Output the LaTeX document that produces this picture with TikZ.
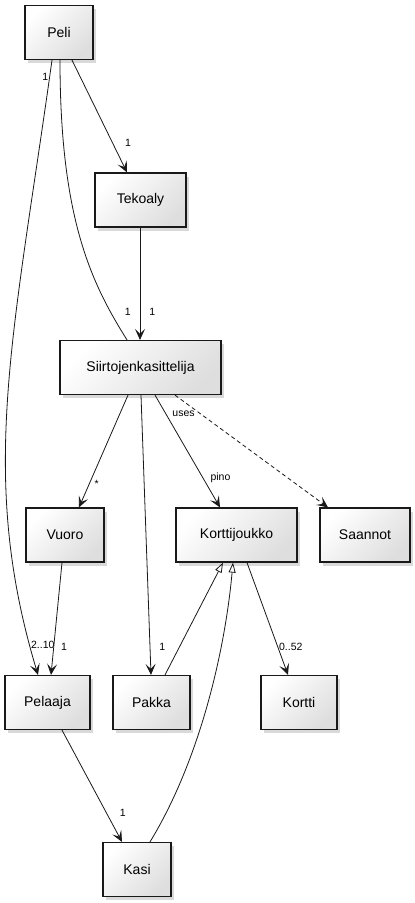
\documentclass[tikz,border=0pt]{standalone}
\usepackage{fontspec}
\setmainfont{Liberation Sans}
\usetikzlibrary{arrows.meta, shadows}
\tikzstyle{entity} = [
    draw=black!90,
    line width=1.2pt,
    rectangle,
    minimum height=54pt,
    inner sep=0pt,
    top color=white,
    bottom color=black!13,
    shading angle=45,
    drop shadow={shadow xshift=3pt, shadow yshift=-3.5pt, opacity=0.3},
    font=\fontsize{14}{16}\selectfont
]
\tikzstyle{assoc} = [-{Stealth[length=11pt, width=10pt, inset=5pt]}, line width=0.8pt, draw=black!90]
\tikzstyle{link} = [line width=0.8pt, draw=black!90]
\tikzstyle{depends} = [assoc, dash pattern=on 4pt off 3pt]
\tikzstyle{extends} = [-{Triangle[open, fill=white, length=10pt, width=7pt]}, line width=0.8pt, draw=black!90]
\tikzstyle{mult} = [font=\fontsize{10.5}{12}\selectfont, inner sep=1pt]

\begin{document}
\begin{tikzpicture}[x=1pt, y=-1pt]
    \useasboundingbox (0, 0) rectangle (415, 903);

    % Classes.
    \node (peli) [entity, minimum width=68pt] at (59, 32.5) {Peli};
    \node (tekoaly) [entity, minimum width=91pt] at (140.5, 200) {Tekoaly};
    \node (kasittelija) [entity, minimum width=161pt] at (140.5, 367.5) {Siirtojenkasittelija};

    \node (vuoro) [entity, minimum width=78pt] at (65, 535) {Vuoro};
    \node (korttijoukko) [entity, minimum width=121pt] at (236.5, 535) {Korttijoukko};
    \node (saannot) [entity, minimum width=90pt] at (365, 535) {Saannot};

    \node (pelaaja) [entity, minimum width=85pt] at (47.5, 702.5) {Pelaaja};
    \node (pakka) [entity, minimum width=77pt] at (151.5, 702.5) {Pakka};
    \node (kortti) [entity, minimum width=76pt] at (299, 702.5) {Kortti};

    \node (kasi) [entity, minimum width=68pt] at (137, 869.5) {Kasi};

    % Paths.

    % From Peli.
    \draw [assoc] ([xshift=-7pt]peli.south) .. controls +(-39, 280) and +(-60, -200) .. ([xshift=-9.5pt]pelaaja.north)
        node [mult, pos=0.02, left] {1}
        node [mult, pos=0.95, right] {2..10};
    \draw [assoc] ([xshift=13pt]peli.south) -- node [mult, pos=0.74, right=11pt] {1} ([xshift=-13.5pt]tekoaly.north);
    \draw [link] ([xshift=1pt]peli.south) .. controls +(0, 160) and +(-35, -56) .. ([xshift=-13.5pt]kasittelija.north)
        node [mult, pos=0.84, right=13pt] {1};
    \draw [assoc] ([xshift=-0.5pt]tekoaly.south) -- node [mult, pos=0.75, right=8pt] {1} ([xshift=-0.5pt]kasittelija.north);

    % From Siirtojenkasittelija.
    \draw [assoc] ([xshift=-12.5pt]kasittelija.south) -- node [mult, pos=0.79, right=4pt] {*} ([xshift=14pt]vuoro.north);
    \draw [assoc] ([xshift=0.5pt]kasittelija.south) -- node [mult, pos=0.9, right=8pt] {1} ([xshift=-0.5pt]pakka.north);
    \draw [assoc] ([xshift=14.5pt]kasittelija.south) -- node [mult, pos=0.74, right=6pt] {pino} ([xshift=-16.5pt]korttijoukko.north);
    \draw [depends] ([xshift=34.5pt]kasittelija.south) -- node [mult, pos=0.17, left=5pt] {uses} ([xshift=-37pt]saannot.north);

    % Lower level.
    \draw [assoc] ([xshift=-3pt]vuoro.south) -- node [mult, pos=0.75, right=6pt] {1} ([xshift=3.5pt]pelaaja.north);
    \draw [assoc] ([xshift=10.5pt]korttijoukko.south) -- node [mult, pos=0.75, right] {0..52} ([xshift=-11pt]kortti.north);
    \draw [assoc] ([xshift=14.5pt]pelaaja.south) -- node [mult, pos=0.74, right=12pt] {1} ([xshift=-15pt]kasi.north);

    % Inheritance.
    \draw [extends] ([xshift=13.5pt]pakka.north) -- ([xshift=-13.5pt]korttijoukko.south);
    \draw [extends] ([xshift=13pt]kasi.north) .. controls +(50, -82) and +(-8, 88) .. ([xshift=-3.5pt]korttijoukko.south);
\end{tikzpicture}
\end{document}
